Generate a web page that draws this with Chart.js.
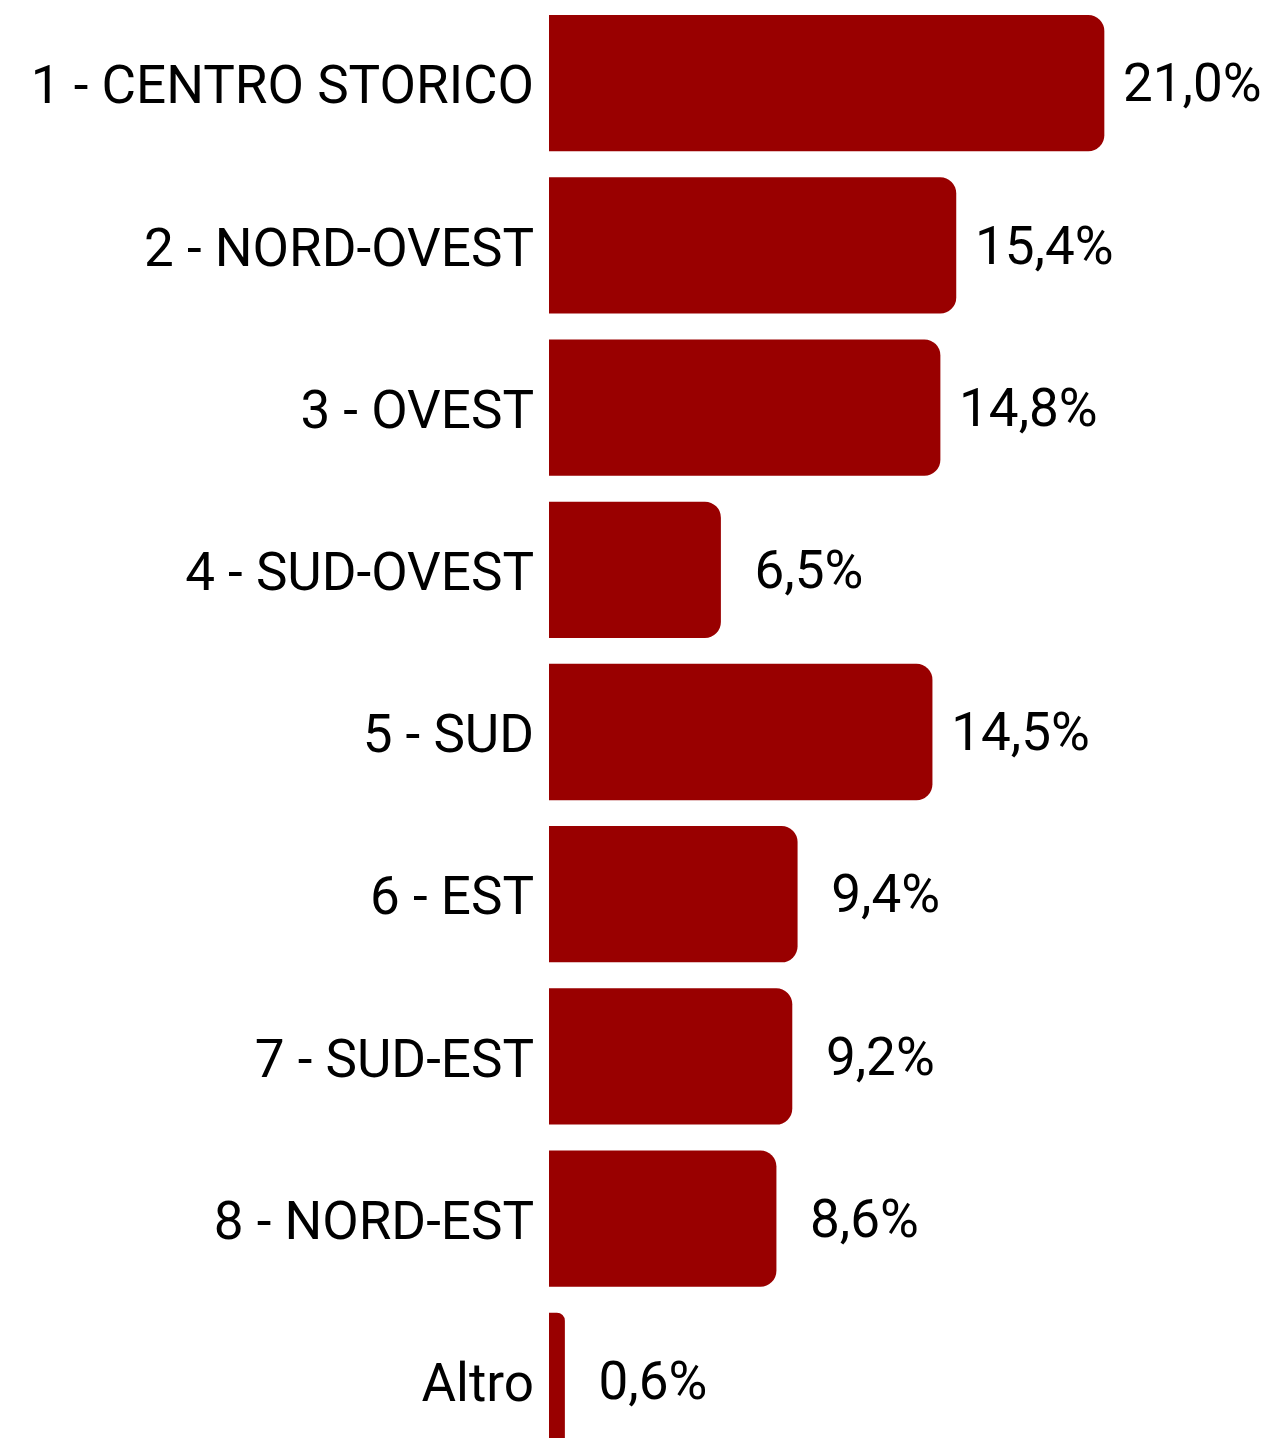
<!DOCTYPE html>
<html>
<head>
<meta charset="utf-8">
<script src="https://cdn.jsdelivr.net/npm/chart.js@4"></script>
<style>
    html, body { margin: 0; padding: 0; background: #fff; overflow: hidden; }
    .chart-container { position: relative; width: 1280px; height: 1462px; }
</style>
</head>
<body>
<div class="chart-container"><canvas id="chart"></canvas></div>
<script>
const zoneLabels = ['1 - CENTRO STORICO', '2 - NORD-OVEST', '3 - OVEST', '4 - SUD-OVEST', '5 - SUD', '6 - EST', '7 - SUD-EST', '8 - NORD-EST', 'Altro'];
const zoneValues = [21.0, 15.4, 14.8, 6.5, 14.5, 9.4, 9.2, 8.6, 0.6];

const FONT = 'Roboto';
const FONT_SIZE = 53;
Chart.defaults.font.family = FONT;
Chart.defaults.color = '#000';

const ctx = document.getElementById('chart');

const chart = new Chart(ctx, {
    type: 'bar',
    data: {
        labels: zoneLabels,
        datasets: [{
            data: zoneValues,
            backgroundColor: '#990000',
            borderRadius: 16,
            borderSkipped: 'start',
            barPercentage: 0.84,
            categoryPercentage: 1,
        }],
    },
    options: {
        indexAxis: 'y',
        responsive: true,
        maintainAspectRatio: false,
        animation: false,
        layout: { padding: { top: 2, right: 17, bottom: 0, left: 0 } },
        scales: {
            x: {
                display: false,
                min: 0,
                max: 27,
            },
            y: {
                grid: { display: false, drawTicks: false },
                border: { display: false },
                ticks: {
                    padding: 15,
                    labelOffset: 7,
                    font: { size: FONT_SIZE },
                    color: '#000',
                },
                afterFit(scale) {
                    scale.width = 549;
                    scale.paddingTop = 0;
                    scale.paddingBottom = 0;
                },
            },
        },
        plugins: {
            legend: { display: false },
            tooltip: { enabled: false },
        },
    },
    plugins: [
        {
            // value labels centred a fixed distance past the end of each bar
            afterDatasetsDraw(chart) {
                const { ctx } = chart;
                const meta = chart.getDatasetMeta(0);
                ctx.save();
                ctx.font = FONT_SIZE + 'px ' + FONT;
                ctx.fillStyle = '#000';
                ctx.textAlign = 'center';
                ctx.textBaseline = 'middle';
                meta.data.forEach((bar, i) => {
                    const txt = zoneValues[i].toFixed(1).replace('.', ',') + '%';
                    ctx.fillText(txt, bar.x + 88, bar.y + 5);
                });
                ctx.restore();
            },
        },
    ],
});
</script>
</body>
</html>
